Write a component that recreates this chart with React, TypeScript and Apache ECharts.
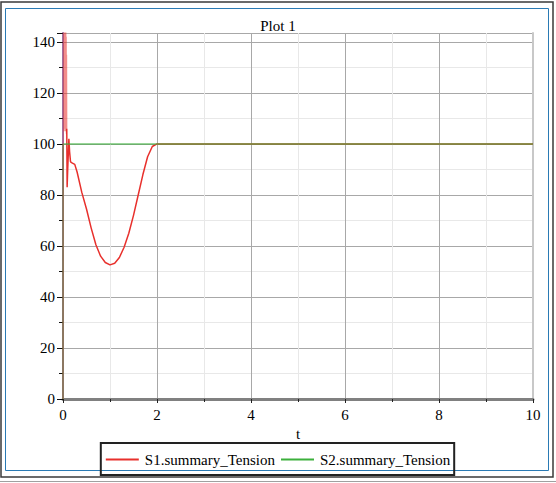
import React, { useEffect, useRef } from "react";
import * as echarts from "echarts";

const xTicks = [0, 2, 4, 6, 8, 10];
const yTicks = [0, 20, 40, 60, 80, 100, 120, 140];

// S1 initial dense oscillation (t, value)
const s1BandT = [0, 0.004, 0.008, 0.012, 0.016, 0.02, 0.024, 0.028, 0.032, 0.036, 0.04, 0.044, 0.048, 0.052, 0.056, 0.06, 0.064, 0.068, 0.072, 0.076, 0.08];
const s1BandV = [0, 160, 106, 165, 110, 160, 105, 158, 112, 155, 106, 150, 110, 148, 105, 145, 108, 142, 104, 135, 106];

// S1 main trajectory
const s1T = [0.08, 0.088, 0.1, 0.125, 0.14, 0.16, 0.2, 0.25, 0.3, 0.4, 0.5, 0.6, 0.7, 0.8, 0.9, 1.0, 1.1, 1.2, 1.3, 1.4, 1.5, 1.6, 1.7, 1.8, 1.9, 2.0, 2.1, 10];
const s1V = [106, 83, 90, 102, 97, 93, 92.5, 92, 89, 81, 74.5, 67, 60.5, 56, 53.5, 52.6, 53.2, 55.5, 59.5, 65, 72, 80, 88, 95, 99, 100, 100, 100];

// S2
const s2T = [0, 0.002, 10];
const s2V = [0, 100, 100];

const FONT = "'Liberation Serif', 'Times New Roman', serif";

export default function App() {
  const ref = useRef<HTMLDivElement>(null);
  useEffect(() => {
    if (!ref.current) return;
    const chart = echarts.init(ref.current, null, { renderer: "svg" });
    const zip = (t: number[], v: number[]) => t.map((x, i) => [x, v[i]]);
    chart.setOption({
      animation: false,
      backgroundColor: "#ffffff",
      textStyle: { fontFamily: FONT },
      title: {
        text: "Plot 1",
        left: "center",
        top: 13,
        textStyle: { fontFamily: FONT, fontSize: 15, fontWeight: "normal", color: "#000" },
      },
      legend: {
        data: [
          { name: "S1.summary_Tension", icon: "rect" },
          { name: "S2.summary_Tension", icon: "rect" },
        ],
        left: "center",
        top: 443,
        borderColor: "#222",
        borderWidth: 2,
        padding: [9, 4, 8, 5],
        itemGap: 6,
        itemWidth: 33,
        itemHeight: 2,
        textStyle: { fontFamily: FONT, fontSize: 15, color: "#000", padding: [0, 0, 0, 1] },
      },
      grid: { left: 63, right: 23, top: 33, bottom: 84 },
      xAxis: {
        type: "value",
        min: 0,
        max: 10,
        interval: 2,
        name: "t",
        nameLocation: "middle",
        nameGap: 26,
        nameTextStyle: { fontFamily: FONT, fontSize: 15, color: "#000" },
        axisLine: { show: true, lineStyle: { color: "#808080", width: 3 } },
        axisTick: { show: true, length: 4, lineStyle: { color: "#222" } },
        minorTick: { show: true, splitNumber: 2, length: 3, lineStyle: { color: "#222" } },
        axisLabel: {
          margin: 8,
          fontFamily: FONT,
          fontSize: 15,
          color: "#000",
          customValues: xTicks,
        },
        splitLine: { show: true, lineStyle: { color: "#a8a8a8", width: 1 } },
        minorSplitLine: { show: true, lineStyle: { color: "#e8e8e8", width: 1 } },
      },
      yAxis: [
        {
          type: "value",
          min: 0,
          max: 143.5,
          interval: 20,
          axisLine: { show: true, lineStyle: { color: "#8a84c4", width: 2 } },
          axisTick: { show: true, length: 6, lineStyle: { color: "#111" } },
          minorTick: { show: true, splitNumber: 2, length: 4, lineStyle: { color: "#111" } },
          axisLabel: {
            margin: 8,
            fontFamily: FONT,
            fontSize: 15,
            color: "#000",
            customValues: yTicks,
          },
          splitLine: { show: true, lineStyle: { color: "#a8a8a8", width: 1 } },
          minorSplitLine: { show: true, lineStyle: { color: "#e8e8e8", width: 1 } },
        },
        {
          type: "value",
          min: 0,
          max: 143.5,
          interval: 20,
          position: "right",
          axisLine: { show: true, lineStyle: { color: "#c8c8c8", width: 2 } },
          axisTick: { show: false },
          axisLabel: { show: false },
          splitLine: { show: false },
        },
      ],
      series: [
        {
          name: "S1.summary_Tension",
          type: "line",
          data: zip(s1BandT, s1BandV),
          showSymbol: false,
          symbol: "none",
          clip: true,
          lineStyle: { color: "#e8302c", width: 1.2, opacity: 0.55 },
          itemStyle: { color: "#e8302c" },
          z: 5,
        },
        {
          name: "S1.summary_Tension",
          type: "line",
          data: zip(s1T, s1V),
          showSymbol: false,
          symbol: "none",
          clip: true,
          lineStyle: { color: "#e8302c", width: 1.5 },
          itemStyle: { color: "#e8302c" },
          z: 3,
        },
        {
          name: "S2.summary_Tension",
          type: "line",
          data: zip(s2T, s2V),
          showSymbol: false,
          symbol: "none",
          clip: true,
          lineStyle: { color: "#3cb03c", width: 1.5, opacity: 0.7 },
          itemStyle: { color: "#3cb03c" },
          z: 4,
        },
      ],
      graphic: [
        {
          type: "rect",
          shape: { x: 1, y: 2, width: 552, height: 475 },
          style: { fill: "none", stroke: "#3a3a3a", lineWidth: 1.5 },
          silent: true,
        },
        {
          type: "rect",
          shape: { x: 5.5, y: 8.5, width: 543, height: 462 },
          style: { fill: "none", stroke: "#2a7ab4", lineWidth: 1 },
          silent: true,
        },
        {
          type: "line",
          shape: { x1: 0, y1: 481.5, x2: 556, y2: 481.5 },
          style: { stroke: "#a0a0a0", lineWidth: 1 },
          silent: true,
        },
      ],
    });
    return () => chart.dispose();
  }, []);
  return (
    <div
      ref={ref}
      style={{ position: "absolute", left: 0, top: 0, width: 556, height: 483 }}
    />
  );
}
